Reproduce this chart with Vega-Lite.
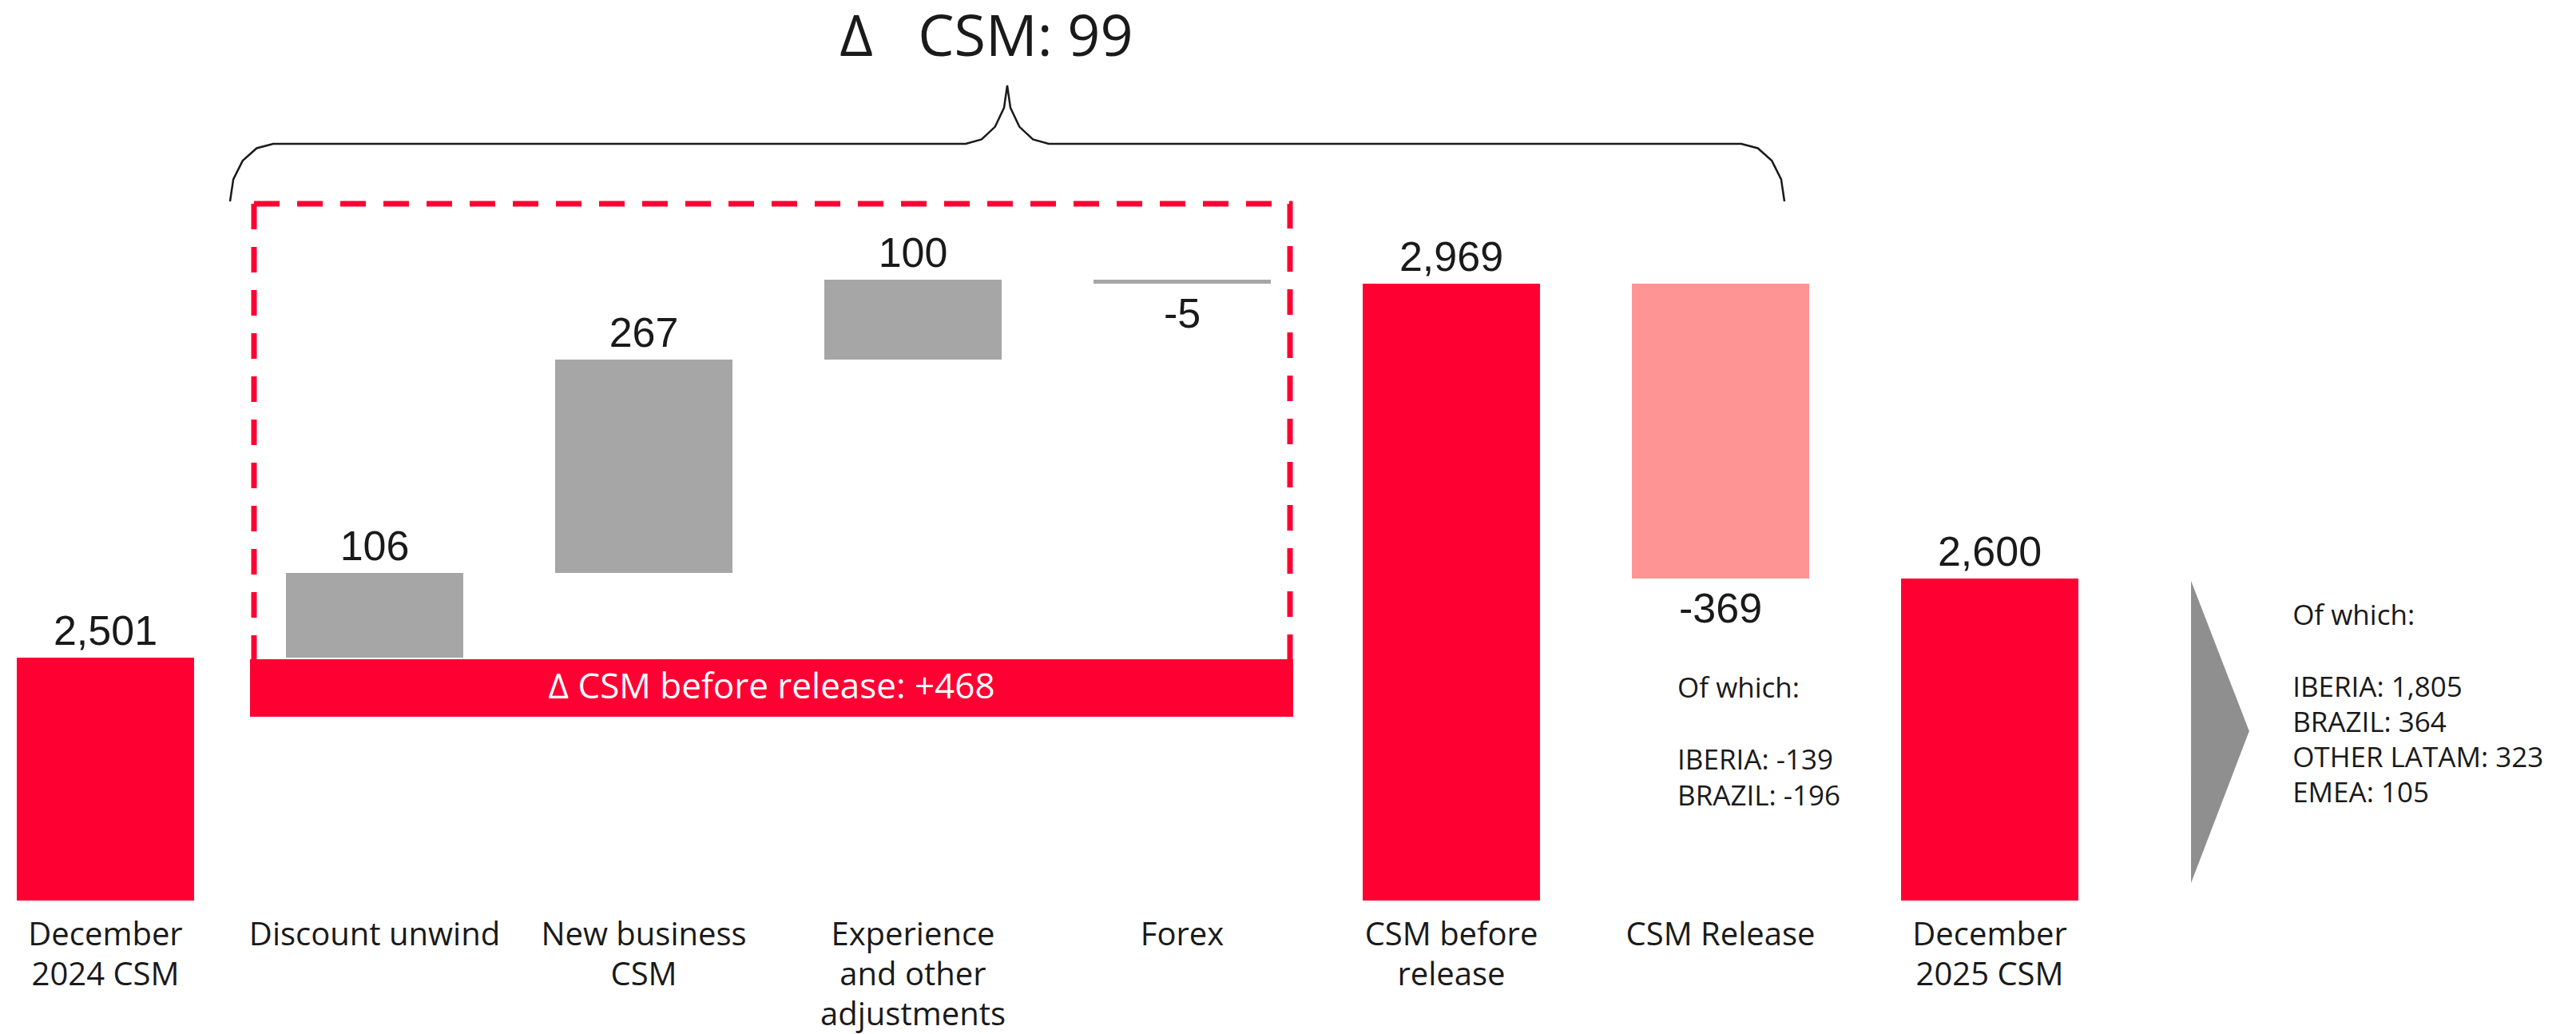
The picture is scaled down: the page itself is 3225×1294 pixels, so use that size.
{
  "$schema": "https://vega.github.io/schema/vega-lite/v6.json",
  "width": 3225,
  "height": 1294,
  "autosize": {"type": "none"},
  "padding": 0,
  "background": "white",
  "config": {"view": {"stroke": null}, "font": "Open Sans"},
  "datasets": {
    "steps": [
      {"idx": 0, "category": "December\n2024 CSM", "type": "total", "start": null, "end": 2501, "label": "2,501"},
      {"idx": 1, "category": "Discount unwind", "type": "change", "start": 2501, "end": 2607, "label": "106"},
      {"idx": 2, "category": "New business\nCSM", "type": "change", "start": 2607, "end": 2874, "label": "267"},
      {"idx": 3, "category": "Experience\nand other\nadjustments", "type": "change", "start": 2874, "end": 2974, "label": "100"},
      {"idx": 4, "category": "Forex", "type": "change", "start": 2974, "end": 2969, "label": "-5"},
      {"idx": 5, "category": "CSM before\nrelease", "type": "total", "start": null, "end": 2969, "label": "2,969"},
      {"idx": 6, "category": "CSM Release", "type": "release", "start": 2969, "end": 2600, "label": "-369"},
      {"idx": 7, "category": "December\n2025 CSM", "type": "total", "start": null, "end": 2600, "label": "2,600"}
    ],
    "brace": [
      {"ord": 0, "bx": 0.4629, "by": 3072},
      {"ord": 1, "bx": 0.4751, "by": 3099.6},
      {"ord": 2, "bx": 0.5098, "by": 3122.9},
      {"ord": 3, "bx": 0.5617, "by": 3138.5},
      {"ord": 4, "bx": 0.6231, "by": 3144},
      {"ord": 5, "bx": 3.1958, "by": 3144},
      {"ord": 6, "bx": 3.2549, "by": 3149.6},
      {"ord": 7, "bx": 3.3050, "by": 3165.4},
      {"ord": 8, "bx": 3.3383, "by": 3189.1},
      {"ord": 9, "bx": 3.3501, "by": 3217},
      {"ord": 10, "bx": 3.3620, "by": 3189.1},
      {"ord": 11, "bx": 3.3953, "by": 3165.4},
      {"ord": 12, "bx": 3.4454, "by": 3149.6},
      {"ord": 13, "bx": 3.5045, "by": 3144},
      {"ord": 14, "bx": 6.0772, "by": 3144},
      {"ord": 15, "bx": 6.1386, "by": 3138.5},
      {"ord": 16, "bx": 6.1905, "by": 3122.9},
      {"ord": 17, "bx": 6.2252, "by": 3099.6},
      {"ord": 18, "bx": 6.2374, "by": 3072}
    ],
    "arrow": [
      {"ax": 7.748, "top": 2597, "bottom": 2219},
      {"ax": 7.964, "top": 2409, "bottom": 2409}
    ]
  },
  "layer": [
    {
      "data": {"name": "brace"},
      "mark": {"type": "line", "color": "#1a1a1a", "strokeWidth": 2.5},
      "encoding": {
        "x": {"field": "bx", "type": "quantitative", "scale": {"domain": [-0.3917, 9.178], "nice": false, "zero": false, "padding": 0}, "axis": null},
        "y": {"field": "by", "type": "quantitative", "scale": {"domain": [2030, 3324], "nice": false, "zero": false, "padding": 0}, "axis": null},
        "order": {"field": "ord"}
      }
    },
    {
      "data": {"values": [{}]},
      "mark": {"type": "rect", "filled": false, "stroke": "#FF0033", "strokeWidth": 7, "strokeDash": [32, 22]},
      "encoding": {
        "x": {"datum": 0.5519, "type": "quantitative", "scale": {"domain": [-0.3917, 9.178], "nice": false, "zero": false, "padding": 0}, "axis": null},
        "x2": {"datum": 4.4006},
        "y": {"datum": 3069, "type": "quantitative", "scale": {"domain": [2030, 3324], "nice": false, "zero": false, "padding": 0}, "axis": null},
        "y2": {"datum": 2460}
      }
    },
    {
      "data": {"values": [{}]},
      "mark": {"type": "rect", "color": "#FF0033"},
      "encoding": {
        "x": {"datum": 0.5371, "type": "quantitative", "scale": {"domain": [-0.3917, 9.178], "nice": false, "zero": false, "padding": 0}, "axis": null},
        "x2": {"datum": 4.4125},
        "y": {"datum": 2499, "type": "quantitative", "scale": {"domain": [2030, 3324], "nice": false, "zero": false, "padding": 0}, "axis": null},
        "y2": {"datum": 2427}
      }
    },
    {
      "data": {"values": [{}]},
      "mark": {"type": "text", "text": "Δ CSM before release: +468", "color": "white", "fontSize": 44, "align": "center", "baseline": "middle"},
      "encoding": {
        "x": {"datum": 2.475, "type": "quantitative", "scale": {"domain": [-0.3917, 9.178], "nice": false, "zero": false, "padding": 0}, "axis": null},
        "y": {"datum": 2463, "type": "quantitative", "scale": {"domain": [2030, 3324], "nice": false, "zero": false, "padding": 0}, "axis": null}
      }
    },
    {
      "data": {"name": "steps"},
      "transform": [{"filter": "datum.type == 'total'"}],
      "mark": {"type": "bar", "width": 222, "color": "#FF0033"},
      "encoding": {
        "x": {"field": "idx", "type": "quantitative", "scale": {"domain": [-0.3917, 9.178], "nice": false, "zero": false, "padding": 0}, "axis": null},
        "y": {"field": "end", "type": "quantitative", "scale": {"domain": [2030, 3324], "nice": false, "zero": false, "padding": 0}, "axis": null},
        "y2": {"datum": 2197}
      }
    },
    {
      "data": {"name": "steps"},
      "transform": [{"filter": "datum.type != 'total'"}],
      "mark": {"type": "bar", "width": 222},
      "encoding": {
        "x": {"field": "idx", "type": "quantitative", "scale": {"domain": [-0.3917, 9.178], "nice": false, "zero": false, "padding": 0}, "axis": null},
        "y": {"field": "start", "type": "quantitative", "scale": {"domain": [2030, 3324], "nice": false, "zero": false, "padding": 0}, "axis": null},
        "y2": {"field": "end"},
        "color": {"field": "type", "type": "nominal", "scale": {"domain": ["change", "release"], "range": ["#A6A6A6", "#FF9494"]}, "legend": null}
      }
    },
    {
      "data": {"name": "steps"},
      "transform": [{"filter": "datum.start == null || datum.end > datum.start"}],
      "mark": {"type": "text", "font": "Liberation Sans", "fontSize": 52, "color": "#1a1a1a", "align": "center", "baseline": "alphabetic", "dy": -16},
      "encoding": {
        "x": {"field": "idx", "type": "quantitative", "scale": {"domain": [-0.3917, 9.178], "nice": false, "zero": false, "padding": 0}, "axis": null},
        "y": {"field": "end", "type": "quantitative", "scale": {"domain": [2030, 3324], "nice": false, "zero": false, "padding": 0}, "axis": null},
        "text": {"field": "label"}
      }
    },
    {
      "data": {"name": "steps"},
      "transform": [{"filter": "datum.start != null && datum.end < datum.start"}],
      "mark": {"type": "text", "font": "Liberation Sans", "fontSize": 52, "color": "#1a1a1a", "align": "center", "baseline": "alphabetic", "dy": 55},
      "encoding": {
        "x": {"field": "idx", "type": "quantitative", "scale": {"domain": [-0.3917, 9.178], "nice": false, "zero": false, "padding": 0}, "axis": null},
        "y": {"field": "end", "type": "quantitative", "scale": {"domain": [2030, 3324], "nice": false, "zero": false, "padding": 0}, "axis": null},
        "text": {"field": "label"}
      }
    },
    {
      "data": {"name": "steps"},
      "mark": {"type": "text", "fontSize": 40, "color": "#1a1a1a", "align": "center", "baseline": "alphabetic", "lineBreak": "\n", "lineHeight": 50},
      "encoding": {
        "x": {"field": "idx", "type": "quantitative", "scale": {"domain": [-0.3917, 9.178], "nice": false, "zero": false, "padding": 0}, "axis": null},
        "y": {"datum": 2141, "type": "quantitative", "scale": {"domain": [2030, 3324], "nice": false, "zero": false, "padding": 0}, "axis": null},
        "text": {"field": "category"}
      }
    },
    {
      "data": {"values": [{}]},
      "mark": {"type": "text", "text": "Δ\u00a0\u00a0\u00a0CSM: 99", "fontSize": 72, "color": "#1a1a1a", "align": "center", "baseline": "alphabetic"},
      "encoding": {
        "x": {"datum": 3.273, "type": "quantitative", "scale": {"domain": [-0.3917, 9.178], "nice": false, "zero": false, "padding": 0}, "axis": null},
        "y": {"datum": 3254, "type": "quantitative", "scale": {"domain": [2030, 3324], "nice": false, "zero": false, "padding": 0}, "axis": null}
      }
    },
    {
      "data": {"name": "arrow"},
      "mark": {"type": "area", "color": "#8F8F8F", "orient": "vertical"},
      "encoding": {
        "x": {"field": "ax", "type": "quantitative", "scale": {"domain": [-0.3917, 9.178], "nice": false, "zero": false, "padding": 0}, "axis": null},
        "y": {"field": "top", "type": "quantitative", "scale": {"domain": [2030, 3324], "nice": false, "zero": false, "padding": 0}, "axis": null},
        "y2": {"field": "bottom"}
      }
    },
    {
      "data": {"values": [{}]},
      "mark": {"type": "text", "text": "Of which:", "fontSize": 35, "color": "#1a1a1a", "align": "left", "baseline": "alphabetic"},
      "encoding": {
        "x": {"datum": 5.84, "type": "quantitative", "scale": {"domain": [-0.3917, 9.178], "nice": false, "zero": false, "padding": 0}, "axis": null},
        "y": {"datum": 2451, "type": "quantitative", "scale": {"domain": [2030, 3324], "nice": false, "zero": false, "padding": 0}, "axis": null}
      }
    },
    {
      "data": {"values": [{}]},
      "mark": {"type": "text", "text": ["IBERIA: -139", "BRAZIL: -196"], "fontSize": 35, "color": "#1a1a1a", "align": "left", "baseline": "alphabetic", "lineHeight": 45},
      "encoding": {
        "x": {"datum": 5.84, "type": "quantitative", "scale": {"domain": [-0.3917, 9.178], "nice": false, "zero": false, "padding": 0}, "axis": null},
        "y": {"datum": 2361, "type": "quantitative", "scale": {"domain": [2030, 3324], "nice": false, "zero": false, "padding": 0}, "axis": null}
      }
    },
    {
      "data": {"values": [{}]},
      "mark": {"type": "text", "text": "Of which:", "fontSize": 35, "color": "#1a1a1a", "align": "left", "baseline": "alphabetic"},
      "encoding": {
        "x": {"datum": 8.125, "type": "quantitative", "scale": {"domain": [-0.3917, 9.178], "nice": false, "zero": false, "padding": 0}, "axis": null},
        "y": {"datum": 2542, "type": "quantitative", "scale": {"domain": [2030, 3324], "nice": false, "zero": false, "padding": 0}, "axis": null}
      }
    },
    {
      "data": {"values": [{}]},
      "mark": {"type": "text", "text": ["IBERIA: 1,805", "BRAZIL: 364", "OTHER LATAM: 323", "EMEA: 105"], "fontSize": 35, "color": "#1a1a1a", "align": "left", "baseline": "alphabetic", "lineHeight": 44},
      "encoding": {
        "x": {"datum": 8.125, "type": "quantitative", "scale": {"domain": [-0.3917, 9.178], "nice": false, "zero": false, "padding": 0}, "axis": null},
        "y": {"datum": 2452, "type": "quantitative", "scale": {"domain": [2030, 3324], "nice": false, "zero": false, "padding": 0}, "axis": null}
      }
    }
  ]
}
